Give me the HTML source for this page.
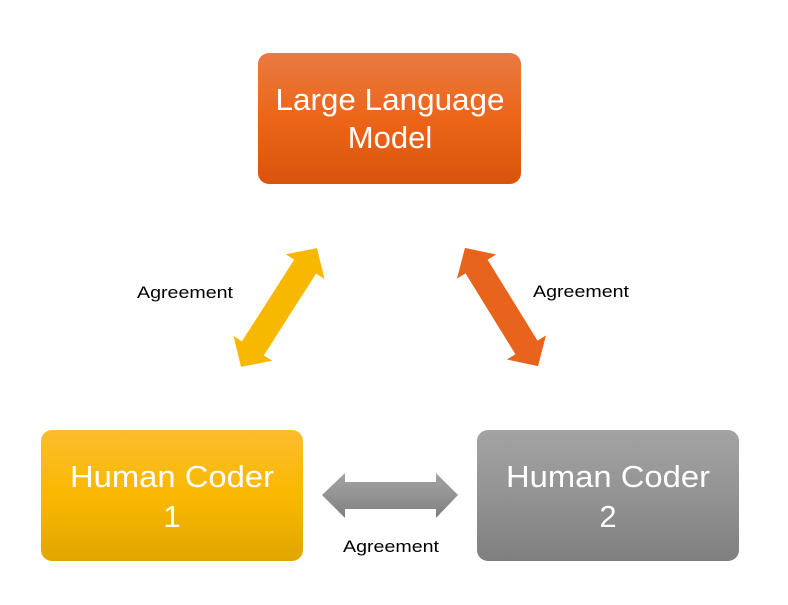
<!DOCTYPE html>
<html><head><meta charset="utf-8"><style>
html,body{margin:0;padding:0;background:#fff;}
svg{display:block;}
text{font-family:"Liberation Sans",sans-serif;}
</style></head><body>
<svg width="788" height="605" viewBox="0 0 788 605" xmlns="http://www.w3.org/2000/svg">
<defs>
<linearGradient id="gO" x1="0" y1="0" x2="0" y2="1"><stop offset="0" stop-color="#e97a42"/><stop offset="0.5" stop-color="#ec6519"/><stop offset="1" stop-color="#d9540c"/></linearGradient>
<linearGradient id="gY" x1="0" y1="0" x2="0" y2="1"><stop offset="0" stop-color="#fbbd2e"/><stop offset="0.5" stop-color="#fbb800"/><stop offset="1" stop-color="#e0a600"/></linearGradient>
<linearGradient id="gG" x1="0" y1="0" x2="0" y2="1"><stop offset="0" stop-color="#a3a3a3"/><stop offset="0.5" stop-color="#939393"/><stop offset="1" stop-color="#7f7f7f"/></linearGradient>
<linearGradient id="aY" x1="0" y1="0" x2="0" y2="1"><stop offset="0" stop-color="#fbbd2e"/><stop offset="0.5" stop-color="#fbb800"/><stop offset="1" stop-color="#e0a600"/></linearGradient>
<linearGradient id="aO" x1="0" y1="0" x2="0" y2="1"><stop offset="0" stop-color="#e97a42"/><stop offset="0.5" stop-color="#ec6519"/><stop offset="1" stop-color="#d9540c"/></linearGradient>
</defs>
<rect x="258" y="53" width="263" height="131" rx="11" fill="url(#gO)"/>
<rect x="41" y="430" width="262" height="131" rx="11" fill="url(#gY)"/>
<rect x="477" y="430" width="262" height="131" rx="11" fill="url(#gG)"/>
<g fill="#fff" font-size="31" text-anchor="middle">
<text x="390" y="110" textLength="229" lengthAdjust="spacingAndGlyphs">Large Language</text>
<text x="390" y="148">Model</text>
<text x="172" y="487" textLength="204" lengthAdjust="spacingAndGlyphs">Human Coder</text>
<text x="172" y="527">1</text>
<text x="608" y="487" textLength="204" lengthAdjust="spacingAndGlyphs">Human Coder</text>
<text x="608" y="527">2</text>
</g>
<!-- horizontal arrow -->
<polygon points="322,495 345,473 345,482 436,482 436,473 458,495 436,518 436,509 345,509 345,518" fill="url(#gG)"/>
<!-- left diagonal -->
<g transform="translate(279,307.5) rotate(-57.4)">
<polygon points="-70.5,0 -48.5,-23 -48.5,-13 48.5,-13 48.5,-23 70.5,0 48.5,23 48.5,13 -48.5,13 -48.5,23" fill="#f8b800"/>
</g>
<!-- right diagonal -->
<g transform="translate(501.5,307) rotate(58.3)">
<polygon points="-69.5,0 -47.5,-23 -47.5,-13 47.5,-13 47.5,-23 69.5,0 47.5,23 47.5,13 -47.5,13 -47.5,23" fill="#e8641c"/>
</g>
<g font-size="17" fill="#000">
<text x="137" y="298" textLength="96" lengthAdjust="spacingAndGlyphs">Agreement</text>
<text x="533" y="297" textLength="96" lengthAdjust="spacingAndGlyphs">Agreement</text>
<text x="343" y="552" textLength="96" lengthAdjust="spacingAndGlyphs">Agreement</text>
</g>
</svg>
</body></html>
